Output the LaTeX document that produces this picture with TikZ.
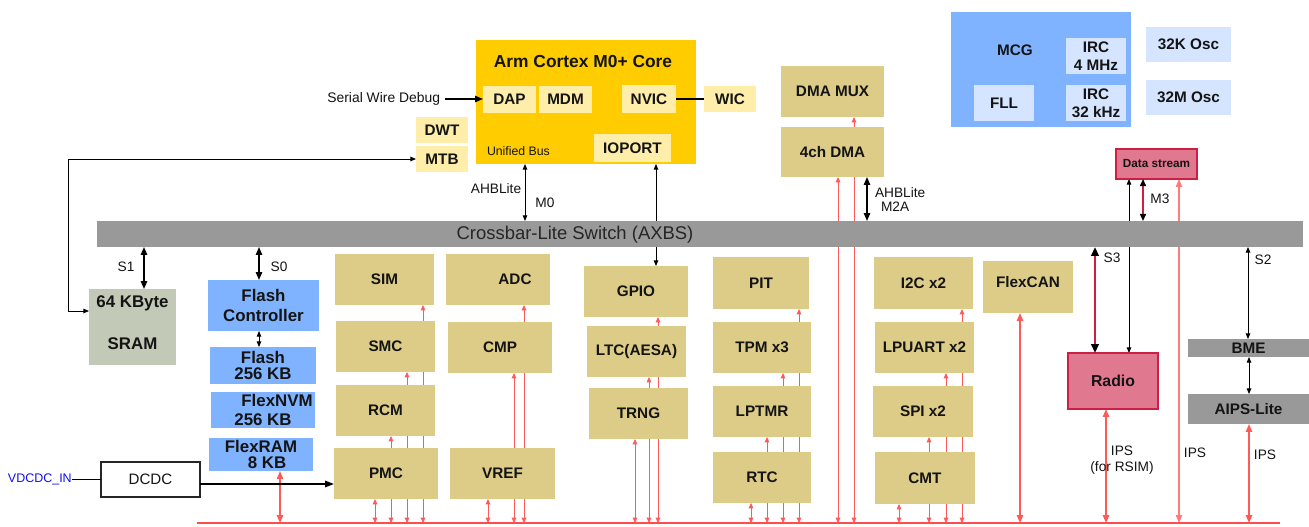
\documentclass[tikz,border=0pt]{standalone}
\usepackage{fontspec}
\setmainfont{Liberation Sans}
\usetikzlibrary{arrows.meta}
\pgfdeclarelayer{back}
\pgfdeclarelayer{bg}
\pgfsetlayers{back,bg,main}
\definecolor{coreY}{HTML}{FFCC00}
\definecolor{lyel}{HTML}{FFEEAA}
\definecolor{tanc}{HTML}{DDCC88}
\definecolor{fblue}{HTML}{80B3FF}
\definecolor{lblue}{HTML}{D5E5FF}
\definecolor{sramc}{HTML}{C2C9B7}
\definecolor{xgray}{HTML}{999999}
\definecolor{radiof}{HTML}{E07890}
\definecolor{radiod}{HTML}{CC1F45}
\definecolor{redl}{HTML}{FF5A5A}
\definecolor{redlt}{HTML}{FF7A7A}
\definecolor{redbus}{HTML}{FF4D4D}
\definecolor{ink}{HTML}{141414}
\definecolor{vblue}{HTML}{1010EE}
% box from corner (x1,y1) to corner (x2,y2), in pixels
\newcommand\bx[7]{%
  \node[#2, minimum width={(#5-#3)*0.02cm}, minimum height={(#6-#4)*0.02cm}]
    (#1) at ({(#3+#5)/2},{(#4+#6)/2}) {#7};}
\tikzset{
  box/.style={inner sep=0pt, outer sep=0pt, align=center, text=ink,
    font=\bfseries\fontsize{8.7}{10}\selectfont},
  per/.style={box, fill=tanc},
  ly/.style={box, fill=lyel},
  fb/.style={box, fill=fblue, font=\bfseries\fontsize{9.6}{9.6}\selectfont},
  lb/.style={box, fill=lblue},
  gb/.style={box, fill=xgray},
  txt/.style={inner sep=0pt, outer sep=0pt, text=ink, font=\fontsize{7.8}{9}\selectfont},
  rl/.style={draw=redl, line width=0.5pt,
    {Triangle[length=3pt,width=2.6pt]}-{Triangle[length=3pt,width=2.6pt]}},
  rlt/.style={draw=redl, line width=0.8pt,
    {Triangle[length=4.5pt,width=3.6pt]}-{Triangle[length=4.5pt,width=3.6pt]}},
  bk/.style={draw=black, line width=0.8pt,
    {Triangle[length=4.5pt,width=3.6pt]}-{Triangle[length=4.5pt,width=3.6pt]}},
  bt/.style={draw=black, line width=0.5pt,
    {Triangle[length=3.2pt,width=2.6pt]}-{Triangle[length=3.2pt,width=2.6pt]}},
}
\begin{document}
\begin{tikzpicture}[x=0.02cm, y=-0.02cm]
\useasboundingbox (0,0) rectangle (1309,527);
\begin{pgfonlayer}{back}
  \fill[white] (0,0) rectangle (1309,527);
\end{pgfonlayer}

% ---------- core ----------
\bx{core}{box, fill=coreY}{476}{40}{696}{164}{}
\node[box, font=\bfseries\fontsize{9.9}{11}\selectfont] (coret) at (583,62) {Arm Cortex M0+ Core};
\node[txt, anchor=west, font=\fontsize{7}{8}\selectfont] (ub) at (487,151) {Unified Bus};
\bx{dap}{ly}{483}{86}{536}{113}{DAP}
\bx{mdm}{ly}{539}{86}{592}{113}{MDM}
\bx{nvic}{ly}{622}{85}{676}{113}{NVIC}
\bx{wic}{ly}{704}{86}{756}{112}{WIC}
\bx{ioport}{ly}{594}{134}{671}{162}{IOPORT}
\bx{dwt}{ly}{416}{117}{468}{143}{DWT}
\bx{mtb}{ly}{416}{146}{468}{172}{MTB}
\node[txt, anchor=east, font=\fontsize{7.9}{9}\selectfont] (swd) at (440,99) {Serial Wire Debug};

% ---------- DMA ----------
\bx{dmamux}{per}{781}{66}{884}{117}{DMA MUX}
\bx{dma}{per}{781}{127}{884}{177}{4ch DMA}

% ---------- clocks ----------
\bx{mcg}{box, fill=fblue}{951}{12}{1131}{127}{}
\node[box] (mcgt) at (1015,50) {MCG};
\bx{irc4}{lb}{1066}{38}{1126}{74}{IRC\\4 MHz}
\bx{fll}{lb}{974}{85}{1034}{121}{FLL}
\bx{irc32}{lb}{1066}{85}{1126}{121}{IRC\\32 kHz}
\bx{osc32k}{lb}{1146}{27}{1231}{62}{32K Osc}
\bx{osc32m}{lb}{1146}{80}{1231}{115}{32M Osc}
\bx{ds}{box, fill=radiof, draw=radiod, line width=1pt, font=\bfseries\fontsize{6.7}{8}\selectfont}{1116}{149}{1197}{179}{Data stream}

% ---------- crossbar ----------
\bx{xbar}{gb}{97}{221}{1303}{247}{}
\node[txt, font=\fontsize{10.5}{12}\selectfont, text=black!85] (xbart) at (575,235) {Crossbar-Lite Switch (AXBS)};

% ---------- memories ----------
\bx{sram}{box, fill=sramc, font=\bfseries\fontsize{9.6}{11}\selectfont}{89}{289}{176}{365}{64 KByte\\[0.45cm]SRAM\\[-0.2cm]\mbox{}}
\bx{fc}{fb, font=\bfseries\fontsize{9.6}{11.9}\selectfont}{208}{280}{319}{331}{Flash\\Controller}
\bx{flash}{fb, font=\bfseries\fontsize{9.6}{9}\selectfont}{210}{347}{316}{384}{Flash\\256 KB}
\bx{nvm}{fb, font=\bfseries\fontsize{9.6}{10.8}\selectfont}{211}{392}{315}{428}{\hspace*{0.56cm}FlexNVM\\256 KB}
\bx{fram}{fb, font=\bfseries\fontsize{9.6}{8.6}\selectfont}{209}{438}{313}{471}{FlexRAM\\\hspace*{0.24cm}8 KB}

% ---------- DCDC ----------
\bx{dcdc}{box, fill=white, draw=black!85, line width=0.6pt, font=\fontsize{8.6}{10}\selectfont}{101}{462}{200}{497}{DCDC}
\node[txt, anchor=west, text=vblue, font=\fontsize{7.1}{8}\selectfont] (vin) at (8,479.5) {VDCDC\_IN};

% ---------- peripherals ----------
\bx{sim}{per}{335}{254}{434}{305}{SIM}
\bx{smc}{per}{336}{321}{435}{372}{SMC}
\bx{rcm}{per}{336}{385}{435}{436}{RCM}
\bx{pmc}{per}{334}{448}{438}{499}{PMC}
\bx{adc}{per}{446}{254}{550}{305}{\hspace*{0.68cm}ADC}
\bx{cmp}{per}{448}{322}{552}{373}{CMP}
\bx{vref}{per}{450}{448}{555}{499}{VREF}
\bx{gpio}{per}{584}{266}{688}{317}{GPIO}
\bx{ltc}{per}{587}{326}{686}{377}{LTC(AESA)}
\bx{trng}{per}{589}{388}{688}{439}{TRNG}
\bx{pit}{per}{713}{257}{809}{309}{PIT}
\bx{tpm}{per}{713}{322}{811}{373}{TPM x3}
\bx{lptmr}{per}{713}{386}{811}{437}{LPTMR}
\bx{rtc}{per}{713}{452}{811}{503}{RTC}
\bx{i2c}{per}{874}{257}{973}{309}{I2C x2}
\bx{lpuart}{per}{875}{322}{974}{373}{LPUART x2}
\bx{spi}{per}{873}{386}{973}{437}{SPI x2}
\bx{cmt}{per}{875}{452}{975}{504}{CMT}
\bx{flexcan}{per}{983}{261}{1073}{313}{FlexCAN\\[-0.15cm]\mbox{}}
\bx{radio}{box, fill=radiof, draw=radiod, line width=1pt, font=\bfseries\fontsize{9}{10}\selectfont}{1068}{353}{1158}{409}{Radio}
\bx{bme}{gb}{1188}{339}{1309}{357}{BME}
\bx{aips}{gb}{1188}{394}{1309}{424}{AIPS-Lite}

% ---------- peripheral bus ----------
\coordinate (busL) at (197,523);
\coordinate (busR) at (1280,523);
\draw[draw=redbus, line width=1.7pt] (busL) -- (busR);

\begin{pgfonlayer}{bg}
  \foreach \x/\n in {375/pmc,391/rcm,407/smc,423/sim,488/vref,514/cmp,524/adc,
                     635/trng,649/ltc,658/gpio,751/rtc,767/lptmr,783/tpm,799/pit,
                     899/cmt,929/spi,946/lpuart,962/i2c,838/dma,854/dmamux}
    \draw[rl] (busL -| \x,0) -- (\n.south -| \x,0);
  \foreach \x/\n in {280/fram,1020/flexcan,1106/radio,1249/aips}
    \draw[rlt] (busL -| \x,0) -- (\n.south -| \x,0);
  \draw[rlt, draw=redlt, line width=0.6pt] (busL -| 1179,0) -- (ds.south -| 1179,0);
  \draw[bt] (gpio.north -| 656,0) -- (core.south -| 656,0);
  \draw[bt] (radio.north -| 1129,0) -- (ds.south -| 1129,0);
\end{pgfonlayer}

% ---------- black connectors ----------
\draw[line width=0.8pt, -{Triangle[length=4.5pt,width=3.6pt]}] ([xshift=3pt]swd.east) -- (dap.west |- swd.east);
\draw[line width=0.8pt] (nvic.east) -- (wic.west);
\draw[bt] (mtb.west) -| (68,311) -- (sram.west |- 68,311);
\draw[bt] (core.south -| 525,0) -- (xbar.north -| 525,0);
\draw[bk] (dma.south -| 867,0) -- (xbar.north -| 867,0);
\draw[bk] (xbar.south -| 144,0) -- (sram.north -| 144,0);
\draw[bk] (xbar.south -| 259,0) -- (fc.north -| 259,0);
\draw[bt] (fc.south -| 259,0) -- (flash.north -| 259,0);
\draw[draw=radiod, line width=1.3pt,
  {Triangle[length=5pt,width=4.2pt,color=black]}-{Triangle[length=5pt,width=4.2pt,color=black]}]
  (xbar.south -| 1095,0) -- (radio.north -| 1095,0);
\draw[draw=radiod, line width=0.9pt,
  {Triangle[length=4pt,width=3.4pt,color=black]}-{Triangle[length=4pt,width=3.4pt,color=black]}]
  (ds.south -| 1143,0) -- (xbar.north -| 1143,0);
\draw[bt] (xbar.south -| 1248,0) -- (bme.north -| 1248,0);
\draw[bt] (bme.south -| 1249,0) -- (aips.north -| 1249,0);
\draw[line width=0.5pt] (vin.east) -- (dcdc.west |- vin.east);
\draw[line width=0.9pt, -{Triangle[length=5pt,width=3.6pt]}] (dcdc.east |- 0,484) -- (pmc.west |- 0,484);

% ---------- labels ----------
\node[txt] (ls1) at (126,267) {S1};
\node[txt] (ls0) at (279,267) {S0};
\node[txt] (lahb) at (496,189) {AHBLite};
\node[txt] (lm0) at (545,203) {M0};
\node[txt, anchor=west] (lahb2) at (875,193) {AHBLite};
\node[txt, anchor=west] (lm2a) at (881,207) {M2A};
\node[txt] (lm3) at (1160,199) {M3};
\node[txt] (ls3) at (1112,258) {S3};
\node[txt] (ls2) at (1263,260) {S2};
\node[txt] (lips1) at (1122,451) {IPS};
\node[txt] (lrsim) at (1122,468) {(for RSIM)};
\node[txt] (lips2) at (1195,453) {IPS};
\node[txt] (lips3) at (1265,455) {IPS};
\end{tikzpicture}
\end{document}
